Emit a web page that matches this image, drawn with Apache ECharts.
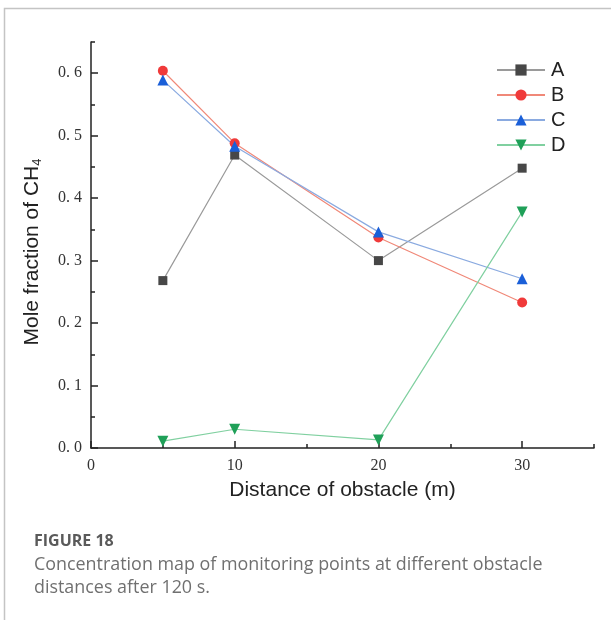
<!DOCTYPE html>
<html>
<head>
<meta charset="utf-8">
<script src="https://cdn.jsdelivr.net/npm/echarts@6/dist/echarts.min.js"></script>
<style>
html,body{margin:0;padding:0;background:#fff;}
#chart{width:611px;height:620px;}
</style>
</head>
<body>
<div id="chart"></div>
<script>
// Data
const xValues = [5, 10, 20, 30];
const seriesA = [0.268, 0.469, 0.300, 0.448];
const seriesB = [0.604, 0.488, 0.337, 0.233];
const seriesC = [0.589, 0.483, 0.346, 0.271];
const seriesD = [0.011, 0.030, 0.013, 0.378];
const seriesNames = ['A', 'B', 'C', 'D'];
const xMajorTicks = [0, 10, 20, 30];
const xMinorTicks = [5, 15, 25, 35];
const yMajorTicks = [0, 0.1, 0.2, 0.3, 0.4, 0.5, 0.6];
const yMinorTicks = [0.05, 0.15, 0.25, 0.35, 0.45, 0.55, 0.65];

const pair = (vals) => xValues.map((x, i) => [x, vals[i]]);

const tickFont = 'Liberation Serif, DejaVu Serif, serif';
const sansFont = 'Liberation Sans, Arial, sans-serif';
const axisColor = '#222';

const grid = {left: 91, right: 17, top: 42, bottom: 172};

const chart = echarts.init(document.getElementById('chart'), null, {renderer: 'canvas'});

function mkSeries(name, vals, symbol, size, markColor, lineColor) {
  return {
    name: name,
    type: 'line',
    data: pair(vals),
    symbol: symbol,
    symbolSize: size,
    itemStyle: {color: markColor},
    lineStyle: {color: lineColor, width: 1.2},
    emphasis: {disabled: true},
    animation: false
  };
}

chart.setOption({
  animation: false,
  backgroundColor: '#fff',
  grid: grid,
  legend: {
    orient: 'vertical',
    left: 491,
    top: 55,
    itemWidth: 48,
    itemHeight: 14,
    itemGap: 5,
    textStyle: {fontFamily: sansFont, fontSize: 20, color: '#222', padding: [0,0,0,1]},
    data: seriesNames
  },
  xAxis: [{
    type: 'value',
    min: 0, max: 35, interval: 5,
    name: 'Distance of obstacle (m)',
    nameLocation: 'middle',
    nameGap: 32,
    nameTextStyle: {fontFamily: sansFont, fontSize: 21, color: '#222'},
    axisLine: {show: true, lineStyle: {color: axisColor, width: 1.5}},
    axisTick: {show: true, inside: true, length: 7, customValues: xMajorTicks, lineStyle: {color: axisColor, width: 1.5}},
    axisLabel: {customValues: xMajorTicks, fontFamily: tickFont, fontSize: 16, color: '#333', margin: 10},
    splitLine: {show: false}
  }, {
    type: 'value',
    min: 0, max: 35, interval: 5,
    position: 'bottom',
    axisLine: {show: false},
    axisTick: {show: true, inside: true, length: 4, customValues: xMinorTicks, lineStyle: {color: axisColor, width: 1.5}},
    axisLabel: {show: false},
    splitLine: {show: false}
  }],
  yAxis: [{
    type: 'value',
    min: 0, max: 0.65, interval: 0.05,
    name: 'Mole fraction of CH{sub|4}',
    nameLocation: 'middle',
    nameGap: 47,
    nameTextStyle: {
      fontFamily: sansFont, fontSize: 21, color: '#222',
      padding: [0, 14, 0, 0],
      rich: {sub: {fontFamily: sansFont, fontSize: 13, color: '#222', verticalAlign: 'bottom', padding: [10, 0, 0, 0]}}
    },
    axisLine: {show: true, lineStyle: {color: axisColor, width: 1.5}},
    axisTick: {show: true, inside: true, length: 7, customValues: yMajorTicks, lineStyle: {color: axisColor, width: 1.5}},
    axisLabel: {
      customValues: yMajorTicks,
      fontFamily: tickFont, fontSize: 16, color: '#333', margin: 9,
      formatter: (v) => v.toFixed(1).replace('.', '. ')
    },
    splitLine: {show: false}
  }, {
    type: 'value',
    min: 0, max: 0.65, interval: 0.05,
    position: 'left',
    axisLine: {show: false},
    axisTick: {show: true, inside: true, length: 4, customValues: yMinorTicks, lineStyle: {color: axisColor, width: 1.5}},
    axisLabel: {show: false},
    splitLine: {show: false}
  }],
  series: [
    mkSeries('A', seriesA, 'rect', 9, '#474747', '#9a9a9a'),
    mkSeries('B', seriesB, 'circle', 10, '#f03a3a', '#f08878'),
    mkSeries('C', seriesC, 'triangle', 11, '#1a5fd8', '#8aaae0'),
    mkSeries('D', seriesD, 'path://M0,0 L10,0 L5,9 Z', 11, '#1fa058', '#80d0a0')
  ],
  graphic: [
    {type: 'polyline', shape: {points: [[4.5, 620], [4.5, 8.5], [611, 8.5]]}, style: {stroke: '#c4c4c4', lineWidth: 1.5, fill: null}, silent: true},
    {type: 'text', left: 34, top: 533, style: {text: 'FIGURE 18', font: 'bold 16px "Open Sans", "Noto Sans", sans-serif', fill: '#5a5a5a'}},
    {type: 'text', left: 34, top: 553, style: {text: 'Concentration map of monitoring points at different obstacle\ndistances after 120 s.', font: '17.9px "Open Sans", "Noto Sans", sans-serif', fill: '#707070', lineHeight: 23}}
  ]
});
</script>
</body>
</html>
